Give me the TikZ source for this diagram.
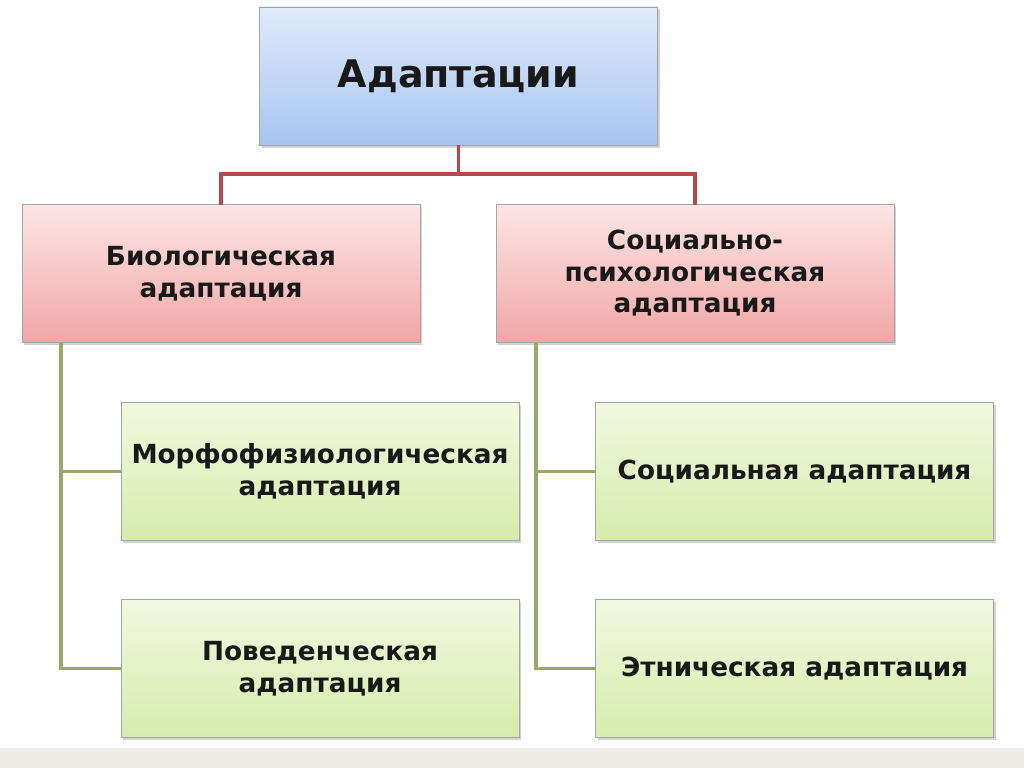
\documentclass[tikz,border=0pt]{standalone}
\usepackage{fontspec}
\setmainfont{DejaVu Sans}
\usetikzlibrary{shadows}
\definecolor{blueup}{RGB}{224, 234, 251}
\definecolor{bluedown}{RGB}{166, 197, 240}
\definecolor{pinkup}{RGB}{253, 230, 230}
\definecolor{pinkdown}{RGB}{241, 166, 166}
\definecolor{greenup}{RGB}{242, 248, 224}
\definecolor{greendown}{RGB}{214, 236, 172}
\definecolor{boxedge}{RGB}{165, 165, 165}
\definecolor{redlink}{RGB}{178, 76, 76}
\definecolor{greenlink}{RGB}{152, 170, 102}
\definecolor{stripgray}{RGB}{237, 237, 229}
\tikzset{
    adaptbox/.style={draw=boxedge, line width=0.8pt, inner sep=0pt, outer sep=0pt,
        minimum width=398pt, minimum height=138pt, align=center, text=black!90,
        font=\fontsize{26.3}{31.5}\selectfont\bfseries,
        drop shadow={shadow xshift=2pt, shadow yshift=-2.5pt, opacity=0.35}},
    topbox/.style={adaptbox, top color=blueup, bottom color=bluedown,
        font=\fontsize{38}{42}\selectfont\bfseries},
    midbox/.style={adaptbox, top color=pinkup, bottom color=pinkdown},
    lowbox/.style={adaptbox, top color=greenup, bottom color=greendown},
    redline/.style={draw=redlink, line width=3.5pt},
    greenline/.style={draw=greenlink, line width=3.5pt}
}

\begin{document}
\begin{tikzpicture}[x=1pt, y=-1pt]
        \useasboundingbox (0, 0) rectangle (1024, 768);
        \fill[white] (0, 0) rectangle (1024, 748);
        \fill[stripgray] (0, 748) rectangle (1024, 768);

        \node[topbox] (adapt) at (458.5, 76) {Адаптации};
        \node[midbox] (bio) at (221, 273.5)
            {Биологическая\\адаптация};
        \node[midbox] (socpsy) at (695, 273.5)
            {Социально-\\психологическая\\адаптация};
        \node[lowbox] (morph) at (320, 471.5)
            {Морфофизиологическая\\адаптация};
        \node[lowbox] (behav) at (320, 668.5)
            {Поведенческая\\адаптация};
        \node[lowbox] (social) at (794.5, 471.5)
            {Социальная адаптация};
        \node[lowbox] (ethnic) at (794.5, 668.5)
            {Этническая адаптация};

        \draw[redline] (adapt.south) -- ++(0, 29) -| (bio.north);
        \draw[redline] (adapt.south) -- ++(0, 29) -| (socpsy.north);
        \draw[greenline] ([xshift=39pt]bio.south west) |- (morph.west);
        \draw[greenline] ([xshift=39pt]bio.south west) |- (behav.west);
        \draw[greenline] ([xshift=40pt]socpsy.south west) |- (social.west);
        \draw[greenline] ([xshift=40pt]socpsy.south west) |- (ethnic.west);
    \end{tikzpicture}
\end{document}
